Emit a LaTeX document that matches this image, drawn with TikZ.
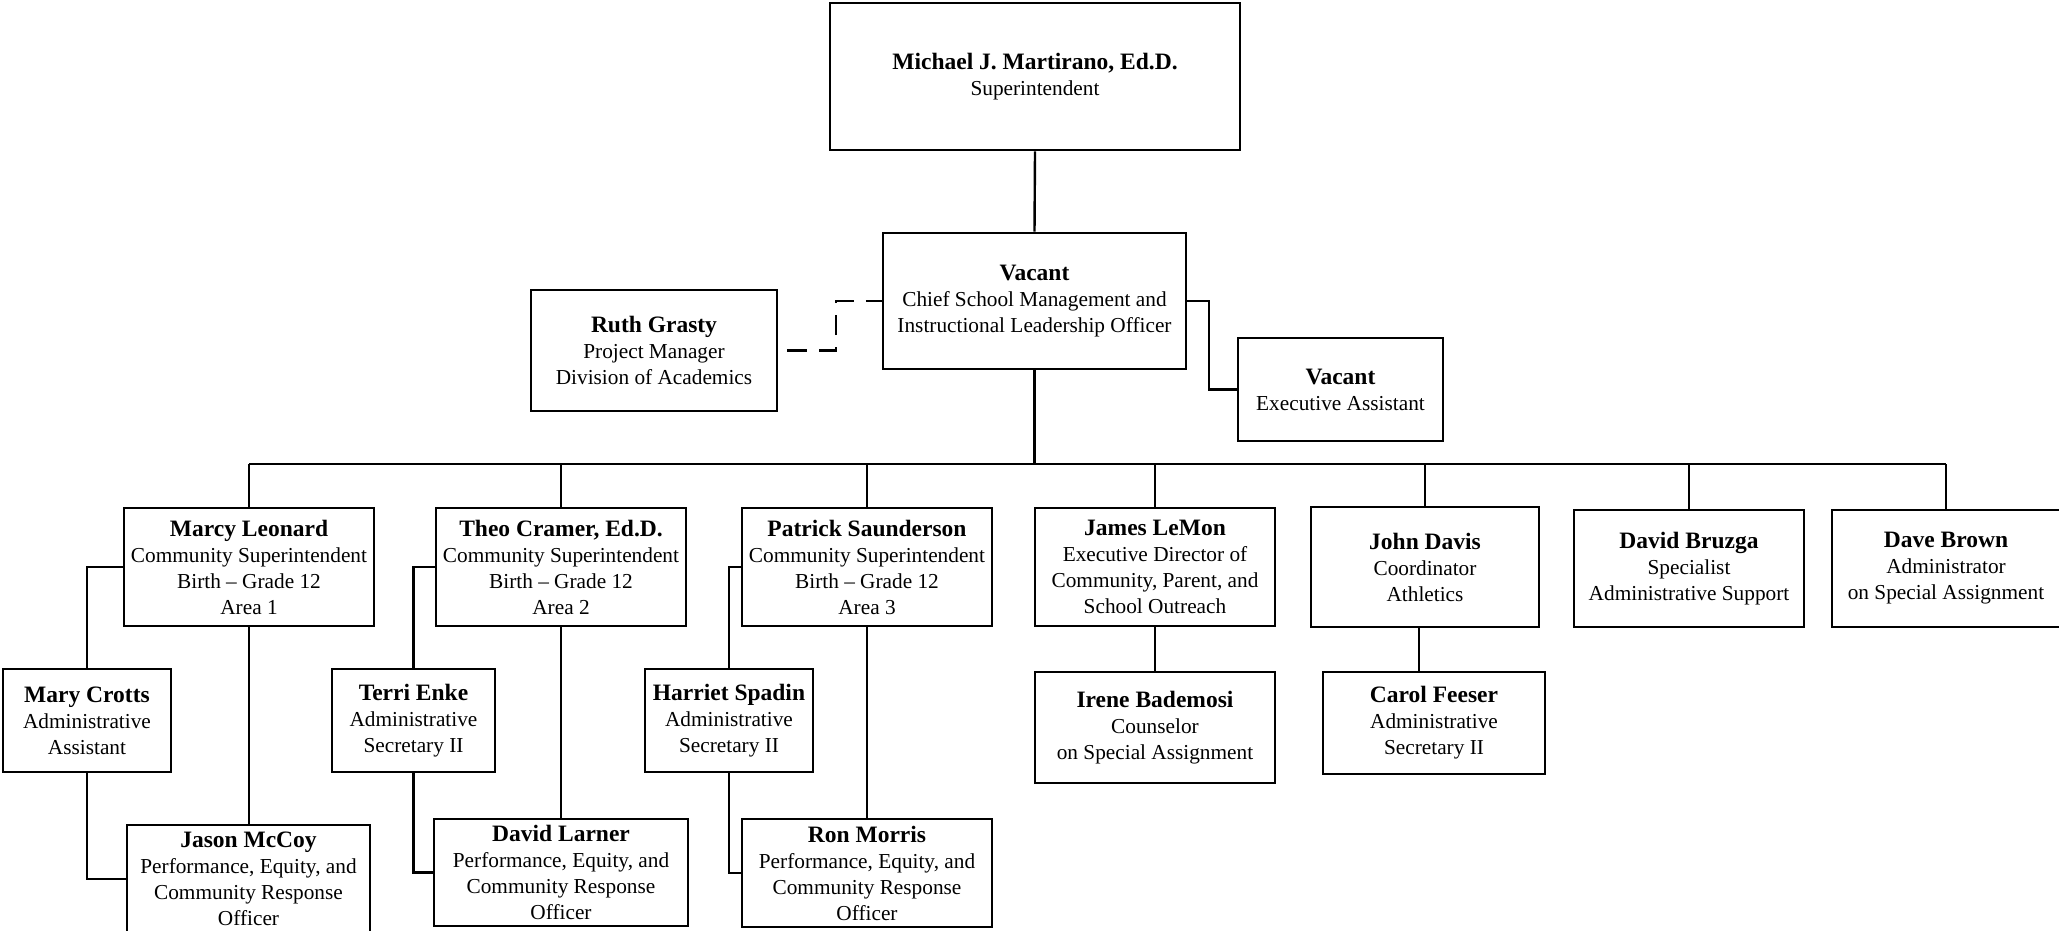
\documentclass[tikz,border=0pt]{standalone}
\usepackage{fontspec}
\setmainfont{Liberation Serif}
\newcommand{\pname}[1]{{\fontsize{23.5}{26}\selectfont\bfseries #1}}
\begin{document}
\begin{tikzpicture}[x=1pt,y=-1pt,
  box/.style={draw, line width=2.8pt, rectangle, inner sep=0pt, align=center,
    font=\fontsize{21.3}{26}\selectfont},
  conn/.style={line width=2.4pt},
  dconn/.style={line width=2.4pt, dash pattern=on 20pt off 12pt, dash phase=23pt}]
\clip (0,0) rectangle (2059,930);
\fill[white] (0,0) rectangle (2059,930);

% top levels
\node[box, minimum width=410pt, minimum height=147pt] (sup) at (1035,76.5)
  {\pname{Michael J. Martirano, Ed.D.}\\Superintendent};
\node[box, minimum width=303pt, minimum height=136pt] (chief) at (1034.5,301)
  {\pname{Vacant}\\Chief School Management and\\Instructional Leadership Officer};
\node[box, minimum width=246pt, minimum height=121pt] (ruth) at (654,350.5)
  {\pname{Ruth Grasty}\\Project Manager\\Division of Academics};
\node[box, minimum width=205pt, minimum height=103pt] (exa) at (1340.5,389.5)
  {\pname{Vacant}\\Executive Assistant};

% second row
\node[box, minimum width=250pt, minimum height=118pt] (marcy) at (249,567)
  {\pname{Marcy Leonard}\\Community Superintendent\\Birth -- Grade 12\\Area 1};
\node[box, minimum width=250pt, minimum height=118pt] (theo) at (561,567)
  {\pname{Theo Cramer, Ed.D.}\\Community Superintendent\\Birth -- Grade 12\\Area 2};
\node[box, minimum width=250pt, minimum height=118pt] (patrick) at (867,567)
  {\pname{Patrick Saunderson}\\Community Superintendent\\Birth -- Grade 12\\Area 3};
\node[box, minimum width=240pt, minimum height=118pt] (james) at (1155,567)
  {\pname{James LeMon}\\Executive Director of\\Community, Parent, and\\School Outreach};
\node[box, minimum width=228pt, minimum height=120pt] (john) at (1425,567)
  {\pname{John Davis}\\Coordinator\\Athletics};
\node[box, minimum width=230pt, minimum height=117pt] (bruzga) at (1689,568.5)
  {\pname{David Bruzga}\\Specialist\\Administrative Support};
\node[box, minimum width=228pt, minimum height=117pt] (brown) at (1946,568.5)
  {\pname{Dave Brown}\\Administrator\\on Special Assignment};

% third row
\node[box, minimum width=168pt, minimum height=103pt] (mary) at (87,720.5)
  {\pname{Mary Crotts}\\Administrative\\Assistant};
\node[box, minimum width=163pt, minimum height=103pt] (terri) at (413.5,720.5)
  {\pname{Terri Enke}\\Administrative\\Secretary II};
\node[box, minimum width=168pt, minimum height=103pt] (harriet) at (729,720.5)
  {\pname{Harriet Spadin}\\Administrative\\Secretary II};
\node[box, minimum width=240pt, minimum height=111pt] (irene) at (1155,727.5)
  {\pname{Irene Bademosi}\\Counselor\\on Special Assignment};
\node[box, minimum width=222pt, minimum height=102pt] (carol) at (1434,723)
  {\pname{Carol Feeser}\\Administrative\\Secretary II};

% fourth row
\node[box, minimum width=243pt, minimum height=108pt] (jason) at (248.5,879)
  {\pname{Jason McCoy}\\Performance, Equity, and\\Community Response\\Officer};
\node[box, minimum width=254pt, minimum height=107pt] (larner) at (561,872.5)
  {\pname{David Larner}\\Performance, Equity, and\\Community Response\\Officer};
\node[box, minimum width=250pt, minimum height=108pt] (ron) at (867,873)
  {\pname{Ron Morris}\\Performance, Equity, and\\Community Response\\Officer};

% bus
\coordinate (busL) at (249,464);
\coordinate (busR) at (1946,464);
\draw[conn] (sup.south) -- (chief.north);
\draw[conn] (chief.south) -- (chief.south |- busL);
\draw[conn] (busL) -- (busR);
\foreach \n in {marcy,theo,patrick,james,john,bruzga,brown}
  \draw[conn] (\n.north |- busL) -- (\n.north);

% side links of chief
\coordinate (dashx) at (836,0);
\coordinate (exx) at (1209,0);
\draw[dconn] (ruth.east) -- (ruth.east -| dashx) -- (chief.west -| dashx) -- (chief.west);
\draw[conn] (chief.east) -- (chief.east -| exx) -- (exa.west -| exx) -- (exa.west);

% community superintendent branches
\draw[conn] (marcy.west) -| (mary.north);
\draw[conn] (mary.south) |- (jason.west);
\draw[conn] (marcy.south) -- (marcy.south |- jason.north);
\draw[conn] (theo.west) -| (terri.north);
\draw[conn] (terri.south) |- (larner.west);
\draw[conn] (theo.south) -- (larner.north);
\draw[conn] (patrick.west) -| (harriet.north);
\draw[conn] (harriet.south) |- (ron.west);
\draw[conn] (patrick.south) -- (ron.north);

% other branches
\draw[conn] (james.south) -- (irene.north);
\draw[conn] ([xshift=-6pt]john.south) -- ([xshift=-6pt]john.south |- carol.north);
\end{tikzpicture}
\end{document}
